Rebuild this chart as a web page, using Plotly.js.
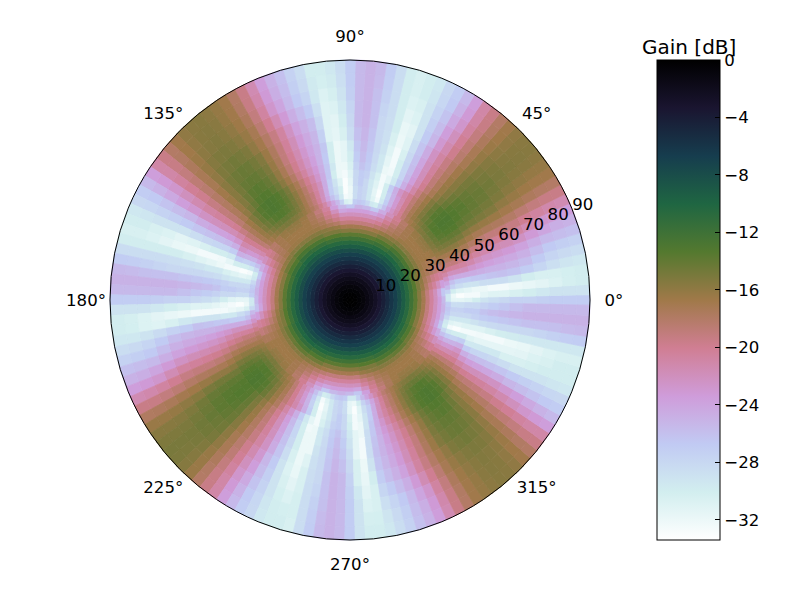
<!DOCTYPE html>
<html>
<head>
<meta charset="utf-8">
<script src="https://cdn.plot.ly/plotly-3.0.1.min.js"></script>
<style>
  html, body { margin: 0; padding: 0; background: #fff; }
  #chart { width: 800px; height: 600px; }
</style>
</head>
<body>
<div id="chart"></div>
<script>
// ring edges in degrees of elevation, one more than the rows of gain below
const ringEdges = [0, 1.5, 3, 4.5, 6, 7.5, 9, 10.5, 12, 13.5, 15, 16.5, 18, 19.5, 21, 22.5, 24, 25.5, 27,
                   28.5, 30, 31.5, 33, 34.5, 36, 38, 40, 43, 46, 49, 52, 56, 60, 65, 70, 75, 80, 85, 90];

const angleTicks = [0, 45, 90, 135, 180, 225, 270, 315];
const radialTicks = [10, 20, 30, 40, 50, 60, 70, 80, 90];
const gainTicks = [0, -4, -8, -12, -16, -20, -24, -28, -32];

// gain in dB, one row per ring, each row going round evenly from azimuth 0
const gainRows = [
  [-0.03, -0.03, -0.03, -0.03, -0.03, -0.03, -0.03, -0.03, -0.03, -0.03, -0.03, -0.03],
  [-0.15, -0.15, -0.15, -0.15, -0.15, -0.15, -0.15, -0.15, -0.15, -0.15, -0.15, -0.15],
  [-0.4, -0.4, -0.4, -0.4, -0.4, -0.4, -0.4, -0.4, -0.4, -0.4, -0.4, -0.4],
  [-0.8, -0.8, -0.8, -0.8, -0.8, -0.8, -0.8, -0.8, -0.8, -0.8, -0.8, -0.8],
  [-1.3, -1.3, -1.3, -1.3, -1.3, -1.3, -1.3, -1.3, -1.3, -1.3, -1.3, -1.3],
  [-1.9, -1.9, -1.9, -1.9, -1.9, -1.9, -1.9, -1.9, -1.9, -1.9, -1.9, -1.9],
  [-2.6, -2.6, -2.6, -2.6, -2.6, -2.6, -2.6, -2.6, -2.6, -2.6, -2.6, -2.6],
  [-3.4, -3.4, -3.4, -3.4, -3.4, -3.4, -3.4, -3.4, -3.4, -3.4, -3.4, -3.4],
  [-4.2, -4.2, -4.2, -4.2, -4.2, -4.2, -4.2, -4.2, -4.2, -4.2, -4.2, -4.2],
  [-5.1, -5.1, -5.1, -5.1, -5.1, -5.1, -5.1, -5.1, -5.1, -5.1, -5.1, -5.1],
  [-6, -6, -6, -6, -6, -6, -6, -6, -6, -6, -6, -6],
  [-6.9, -6.9, -6.9, -6.9, -6.9, -6.9, -6.9, -6.9, -6.9, -6.9, -6.9, -6.9],
  [-8, -7.9, -7.8, -7.8, -7.9, -8, -8, -7.9, -7.8, -7.8, -7.9, -8, -8, -7.9, -7.8, -7.8, -7.9, -8, -8, -7.9, -7.8, -7.8, -7.9, -8],
  [-9.3, -9.2, -9, -8.9, -9.1, -9.3, -9.3, -9.2, -9, -8.9, -9.1, -9.3, -9.3, -9.2, -9, -8.9, -9.1, -9.3, -9.3, -9.2, -9, -8.9, -9.1, -9.3],
  [-10.6, -10.5, -10.2, -10, -10.3, -10.6, -10.6, -10.5, -10.2, -10, -10.3, -10.6, -10.6, -10.5, -10.2, -10, -10.3, -10.6, -10.6, -10.5, -10.2, -10, -10.3, -10.6],
  [-12.1, -11.9, -11.5, -11.3, -11.7, -12.1, -12.1, -11.9, -11.5, -11.3, -11.7, -12.1, -12.1, -11.9, -11.5, -11.3, -11.7, -12.1, -12.1, -11.9, -11.5, -11.3, -11.7, -12.1],
  [-13.7, -13.4, -12.8, -12.6, -13.2, -13.7, -13.7, -13.4, -12.8, -12.6, -13.2, -13.7, -13.7, -13.4, -12.8, -12.6, -13.2, -13.7, -13.7, -13.4, -12.8, -12.6, -13.2, -13.7],
  [-15.5, -15.1, -14.4, -14.1, -14.7, -15.5, -15.5, -15.1, -14.4, -14.1, -14.7, -15.5, -15.5, -15.1, -14.4, -14.1, -14.7, -15.5, -15.5, -15.1, -14.4, -14.1, -14.7, -15.5],
  [-17, -17, -16.3, -16, -15.7, -15.5, -15.5, -15.5, -15.5, -15.5, -15.5, -15.7, -16, -16.3, -16.7, -17, -17, -17,
   -17, -17, -16.3, -16, -15.7, -15.5, -15.5, -15.5, -15.5, -15.5, -15.5, -15.7, -16, -16.3, -16.7, -17, -17, -17,
   -17, -17, -16.3, -16, -15.7, -15.5, -15.5, -15.5, -15.5, -15.5, -15.5, -15.7, -16, -16.3, -16.7, -17, -17, -17,
   -17, -17, -16.3, -16, -15.7, -15.5, -15.5, -15.5, -15.5, -15.5, -15.5, -15.7, -16, -16.3, -16.7, -17, -17, -17],
  [-19, -19, -18, -17.5, -17, -16.5, -16.5, -16.5, -16.5, -16.5, -16.5, -17, -17.5, -18, -18.5, -19, -19, -19,
   -19, -19, -18, -17.5, -17, -16.5, -16.5, -16.5, -16.5, -16.5, -16.5, -17, -17.5, -18, -18.5, -19, -19, -19,
   -19, -19, -18, -17.5, -17, -16.5, -16.5, -16.5, -16.5, -16.5, -16.5, -17, -17.5, -18, -18.5, -19, -19, -19,
   -19, -19, -18, -17.5, -17, -16.5, -16.5, -16.5, -16.5, -16.5, -16.5, -17, -17.5, -18, -18.5, -19, -19, -19],
  [-20.5, -20.5, -19.5, -18.5, -17.5, -17, -16.7, -16.7, -16.7, -16.7, -17, -17.5, -18, -19, -20, -20.5, -20.5, -20.5,
   -20.5, -20.5, -19.5, -18.5, -17.5, -17, -16.7, -16.7, -16.7, -16.7, -17, -17.5, -18, -19, -20, -20.5, -20.5, -20.5,
   -20.5, -20.5, -19.5, -18.5, -17.5, -17, -16.7, -16.7, -16.7, -16.7, -17, -17.5, -18, -19, -20, -20.5, -20.5, -20.5,
   -20.5, -20.5, -19.5, -18.5, -17.5, -17, -16.7, -16.7, -16.7, -16.7, -17, -17.5, -18, -19, -20, -20.5, -20.5, -20.5],
  [-22, -22, -20.5, -19.5, -18, -17.3, -16.7, -16.7, -16.7, -16.7, -17, -17.7, -18.7, -20, -21.3, -22, -22, -22,
   -22, -22, -20.5, -19.5, -18, -17.3, -16.7, -16.7, -16.7, -16.7, -17, -17.7, -18.7, -20, -21.3, -22, -22, -22,
   -22, -22, -20.5, -19.5, -18, -17.3, -16.7, -16.7, -16.7, -16.7, -17, -17.7, -18.7, -20, -21.3, -22, -22, -22,
   -22, -22, -20.5, -19.5, -18, -17.3, -16.7, -16.7, -16.7, -16.7, -17, -17.7, -18.7, -20, -21.3, -22, -22, -22],
  [-23.5, -24, -22, -20, -18.5, -17.5, -16.7, -16.3, -16.3, -16.5, -17, -18, -19.5, -21, -23, -24, -23.5, -23.5,
   -23.5, -24, -22, -20, -18.5, -17.5, -16.7, -16.3, -16.3, -16.5, -17, -18, -19.5, -21, -23, -24, -23.5, -23.5,
   -23.5, -24, -22, -20, -18.5, -17.5, -16.7, -16.3, -16.3, -16.5, -17, -18, -19.5, -21, -23, -24, -23.5, -23.5,
   -23.5, -24, -22, -20, -18.5, -17.5, -16.7, -16.3, -16.3, -16.5, -17, -18, -19.5, -21, -23, -24, -23.5, -23.5],
  [-25.5, -26.5, -23.5, -20.5, -19, -17.5, -16.5, -16, -16, -16.3, -17, -18.2, -20, -22, -24.5, -26.5, -25.5, -25,
   -26.5, -25.5, -23.5, -20.5, -19, -17.5, -16.5, -16, -16, -16.3, -17, -18.2, -20, -22, -24.5, -26.5, -25.5, -25,
   -25.5, -26, -23.5, -20.5, -19, -17.5, -16.5, -16, -16, -16.3, -17, -18.2, -20, -22, -24.5, -26.5, -25.5, -25,
   -25.5, -26.5, -23.5, -20.5, -19, -17.5, -16.5, -16, -16, -16.3, -17, -18.2, -20, -22, -24.5, -26.5, -25.5, -25],
  [-29.5, -29.5, -27.5, -25.5, -24, -22.5, -21, -19.7, -18.5, -17.7, -17, -16.3, -15.8, -15.4, -15.2, -15, -15, -15.2, -15.4, -15.8, -16.3, -16.9, -17.5, -18.7, -20, -21.2, -22.5, -24, -26, -28, -30, -29.5, -28, -27, -26.5, -27,
   -31, -30.5, -27.5, -25.5, -24, -22.5, -21, -19.7, -18.5, -17.7, -17, -16.3, -15.8, -15.4, -15.2, -15, -15, -15.2, -15.4, -15.8, -16.3, -16.9, -17.5, -18.7, -20, -21.2, -22.5, -24, -26, -28, -30, -29.5, -28, -27, -26.5, -27,
   -29.5, -29.5, -28, -25.5, -24, -22.5, -21, -19.7, -18.5, -17.7, -17, -16.3, -15.8, -15.4, -15.2, -15, -15, -15.2, -15.4, -15.8, -16.3, -16.9, -17.5, -18.7, -20, -21.2, -22.5, -24, -26, -28, -30, -29.5, -28, -27, -26.5, -27,
   -29.5, -29.5, -27.5, -25.5, -24, -22.5, -21, -19.7, -18.5, -17.7, -17, -16.3, -15.8, -15.4, -15.2, -15, -15, -15.2, -15.4, -15.8, -16.3, -16.9, -17.5, -18.7, -20, -21.2, -22.5, -24, -26, -28, -30, -29.5, -28, -27, -26.5, -27],
  [-31.5, -32, -30, -27.5, -26, -24, -22, -20.3, -19, -18, -17, -16, -15.2, -14.7, -14.4, -14.2, -14.2, -14.4, -14.7, -15.2, -15.8, -16.4, -17.2, -18.5, -20, -21.5, -23, -25, -27, -29.5, -32.5, -31, -29.5, -28, -27.5, -28.5,
   -32, -32.5, -29.5, -27.5, -26, -24, -22, -20.3, -19, -18, -17, -16, -15.2, -14.7, -14.4, -14.2, -14.2, -14.4, -14.7, -15.2, -15.8, -16.4, -17.2, -18.5, -20, -21.5, -23, -25, -27, -29.5, -32.5, -31, -29.5, -28, -27.5, -28.5,
   -31.5, -32, -30.5, -27.5, -26, -24, -22, -20.3, -19, -18, -17, -16, -15.2, -14.7, -14.4, -14.2, -14.2, -14.4, -14.7, -15.2, -15.8, -16.4, -17.2, -18.5, -20, -21.5, -23, -25, -27, -29.5, -32.5, -31, -29.5, -28, -27.5, -28.5,
   -31.5, -32, -30, -27.5, -26, -24, -22, -20.3, -19, -18, -17, -16, -15.2, -14.7, -14.4, -14.2, -14.2, -14.4, -14.7, -15.2, -15.8, -16.4, -17.2, -18.5, -20, -21.5, -23, -25, -27, -29.5, -32.5, -31, -29.5, -28, -27.5, -28.5],
  [-31.5, -33, -31, -28.5, -27, -24.5, -22, -20.5, -19, -18, -17, -15.8, -15, -14.3, -13.7, -13.4, -13.3, -13.5, -14, -14.6, -15.3, -16.3, -17.3, -18.6, -20, -21.5, -23, -25, -27.5, -30, -33, -31.5, -29.5, -28, -27.5, -28.5,
   -32, -33, -30, -28.5, -27, -24.5, -22, -20.5, -19, -18, -17, -15.8, -15, -14.3, -13.7, -13.4, -13.3, -13.5, -14, -14.6, -15.3, -16.3, -17.3, -18.6, -20, -21.5, -23, -25, -27.5, -30, -33, -31.5, -29.5, -28, -27.5, -28.5,
   -31.5, -33, -31.5, -28.5, -27, -24.5, -22, -20.5, -19, -18, -17, -15.8, -15, -14.3, -13.7, -13.4, -13.3, -13.5, -14, -14.6, -15.3, -16.3, -17.3, -18.6, -20, -21.5, -23, -25, -27.5, -30, -33, -31.5, -29.5, -28, -27.5, -28.5,
   -31.5, -33, -31, -28.5, -27, -24.5, -22, -20.5, -19, -18, -17, -15.8, -15, -14.3, -13.7, -13.4, -13.3, -13.5, -14, -14.6, -15.3, -16.3, -17.3, -18.6, -20, -21.5, -23, -25, -27.5, -30, -33, -31.5, -29.5, -28, -27.5, -28.5],
  [-31, -32.5, -31.5, -29, -27, -24.5, -22, -20.7, -19.5, -18.2, -17, -15.8, -14.8, -14, -13.4, -13.1, -13, -13.2, -13.5, -14.3, -15.3, -16.4, -17.5, -18.7, -20, -21.2, -22.5, -24.7, -27, -30, -32.5, -31, -29.5, -28, -27, -28,
   -31.5, -33, -31, -29, -27, -24.5, -22, -20.7, -19.5, -18.2, -17, -15.8, -14.8, -14, -13.4, -13.1, -13, -13.2, -13.5, -14.3, -15.3, -16.4, -17.5, -18.7, -20, -21.2, -22.5, -24.7, -27, -30, -32.5, -31, -29.5, -28, -27, -28,
   -31, -32.5, -32, -29.5, -27, -24.5, -22, -20.7, -19.5, -18.2, -17, -15.8, -14.8, -14, -13.4, -13.1, -13, -13.2, -13.5, -14.3, -15.3, -16.4, -17.5, -18.7, -20, -21.2, -22.5, -24.7, -27, -30, -32.5, -31, -29.5, -28, -27, -28,
   -30.5, -32.5, -31.5, -29, -27, -24.5, -22, -20.7, -19.5, -18.2, -17, -15.8, -14.8, -14, -13.4, -13.1, -13, -13.2, -13.5, -14.3, -15.3, -16.4, -17.5, -18.7, -20, -21.2, -22.5, -24.7, -27, -30, -32.5, -31, -29.5, -28, -27, -28],
  [-30, -32.5, -32, -29, -26.5, -24.5, -22.7, -21.2, -20, -18.7, -17.3, -16.2, -15, -14.1, -13.4, -13.1, -13, -13.2, -13.6, -14.4, -15.4, -16.6, -17.8, -19.3, -21, -22.7, -24.7, -27, -29.5, -31.5, -32.5, -30.5, -29, -27.5, -27, -28,
   -31, -32.5, -32, -30, -26.5, -24.5, -22.7, -21.2, -20, -18.7, -17.3, -16.2, -15, -14.1, -13.4, -13.1, -13, -13.2, -13.6, -14.4, -15.4, -16.6, -17.8, -19.3, -21, -22.7, -24.7, -27, -29.5, -31.5, -32.5, -30.5, -29, -27.5, -27, -28,
   -30, -32, -32.5, -29.5, -26.5, -24.5, -22.7, -21.2, -20, -18.7, -17.3, -16.2, -15, -14.1, -13.4, -13.1, -13, -13.2, -13.6, -14.4, -15.4, -16.6, -17.8, -19.3, -21, -22.7, -24.7, -27, -29.5, -31.5, -32.5, -30.5, -29, -27.5, -27, -28,
   -30, -32.5, -32, -29, -26.5, -24.5, -22.7, -21.2, -20, -18.7, -17.3, -16.2, -15, -14.1, -13.4, -13.1, -13, -13.2, -13.6, -14.4, -15.4, -16.6, -17.8, -19.3, -21, -22.7, -24.7, -27, -29.5, -31, -32.5, -31, -29, -27.5, -27, -28],
  [-29, -31.5, -32, -28.5, -26.5, -24.7, -23.2, -22, -20.7, -19.4, -18, -16.8, -15.7, -14.6, -13.9, -13.4, -13.3, -13.5, -14.2, -15, -16, -17.3, -18.5, -20, -21.7, -23.5, -25.5, -27.7, -30, -32.3, -32, -29.5, -28.5, -27, -26.2, -27.5,
   -30.5, -32, -32, -29.5, -26.5, -24.7, -23.2, -22, -20.7, -19.4, -18, -16.8, -15.7, -14.6, -13.9, -13.4, -13.3, -13.5, -14.2, -15, -16, -17.3, -18.5, -20, -21.7, -23.5, -25.5, -27.7, -30, -32.3, -32, -29.5, -28.5, -27, -26.2, -27.5,
   -29, -31.5, -32.5, -29, -26.5, -24.7, -23.2, -22, -20.7, -19.4, -18, -16.8, -15.7, -14.6, -13.9, -13.4, -13.3, -13.5, -14.2, -15, -16, -17.3, -18.5, -20, -21.7, -23.5, -25.5, -27.7, -30, -32.3, -32, -29.5, -28.5, -27, -26.2, -27.5,
   -29.5, -31.5, -32, -28.5, -26.5, -24.7, -23.2, -22, -20.7, -19.4, -18, -16.8, -15.7, -14.6, -13.9, -13.4, -13.3, -13.5, -14.2, -15, -16, -17.3, -18.5, -20, -21.7, -23.5, -25.5, -27.7, -29.5, -31.5, -32.3, -31, -28.5, -27, -26.2, -27.5],
  [-28.5, -31, -32.5, -28.5, -26.2, -25, -23.7, -22.5, -21.2, -19.9, -18.6, -17.3, -16.1, -14.9, -14.2, -13.8, -13.6, -13.8, -14.5, -15.4, -16.3, -17.6, -18.8, -20.3, -21.9, -23.8, -25.8, -27.8, -30, -32.5, -31.5, -29.5, -28.2, -26.7, -25.8, -27,
   -30, -31.5, -32, -30, -26.7, -25, -23.7, -22.5, -21.2, -19.9, -18.6, -17.3, -16.1, -14.9, -14.2, -13.8, -13.6, -13.8, -14.5, -15.4, -16.3, -17.6, -18.8, -20.3, -21.9, -23.8, -25.8, -27.8, -30, -32.5, -31.5, -29.5, -28.2, -26.7, -25.8, -27,
   -28.5, -31, -32.5, -29, -26.2, -25, -23.7, -22.5, -21.2, -19.9, -18.6, -17.3, -16, -14.7, -13.9, -13.5, -13.3, -13.5, -14.1, -15.2, -16.3, -17.6, -18.8, -20.3, -21.9, -23.8, -25.8, -27.8, -30, -32, -32, -29.5, -28.2, -26.7, -25.8, -27,
   -29, -31.5, -32.5, -28.5, -26.2, -25, -23.7, -22.5, -21.2, -19.9, -18.6, -17.3, -16.1, -14.9, -14.2, -13.8, -13.6, -13.8, -14.5, -15.4, -16.3, -17.6, -18.8, -20.3, -21.9, -23.8, -25.8, -27.8, -29.5, -31.5, -32.5, -30.5, -28.2, -26.7, -25.8, -27],
  [-28, -31, -32.5, -28.5, -26, -25, -24, -22.8, -21.5, -20.2, -19, -17.5, -16.3, -15.1, -14.5, -14.1, -14, -14.2, -14.8, -15.6, -16.5, -17.8, -19, -20.5, -22, -24, -26, -28, -30.5, -32.5, -31, -29, -28, -26.5, -25.5, -26.5,
   -29.5, -31.5, -32, -30, -26.5, -25, -24, -22.8, -21.5, -20.2, -19, -17.5, -16.3, -15.1, -14.5, -14.1, -14, -14.2, -14.8, -15.6, -16.5, -17.8, -19, -20.5, -22, -24, -26, -28, -30.5, -32.5, -31, -29, -28, -26.5, -25.5, -26.5,
   -28, -31, -32.5, -29, -26, -25, -24, -22.8, -21.5, -20.2, -19, -17.5, -16, -14.7, -14, -13.6, -13.5, -13.7, -14.3, -15.4, -16.5, -17.8, -19, -20.5, -22, -24, -26, -28, -30, -32, -32, -29, -28, -26.5, -25.5, -26.5,
   -28.5, -31.5, -32.5, -28.5, -26, -25, -24, -22.8, -21.5, -20.2, -19, -17.5, -16.3, -15.1, -14.5, -14.1, -14, -14.2, -14.8, -15.6, -16.5, -17.8, -19, -20.5, -22, -24, -26, -28, -29.5, -31.5, -32.5, -30, -28, -26.5, -25.5, -26.5],
  [-27.5, -30.5, -32, -29, -26.3, -25.3, -24.3, -23.2, -21.8, -20.4, -19, -17.7, -16.5, -15.4, -14.8, -14.4, -14.3, -14.5, -14.9, -15.7, -16.8, -18, -19.3, -20.8, -22.3, -24.5, -26.3, -28.5, -31, -32, -30.5, -28.8, -28, -26.3, -25.2, -26,
   -28.5, -30.5, -31.5, -31, -27.3, -25.3, -24.3, -23.2, -21.8, -20.4, -19, -17.7, -16.5, -15.4, -14.8, -14.4, -14.3, -14.5, -14.9, -15.7, -16.8, -18, -19.3, -20.8, -22.3, -24.5, -26.3, -28.5, -31, -32, -30.5, -28.8, -28, -26.3, -25.2, -26,
   -27.5, -30.5, -32, -29.5, -27, -25.3, -24.3, -23.2, -21.8, -20.4, -19, -17.7, -16.3, -15, -14.2, -13.9, -13.8, -14, -14.4, -15.5, -16.8, -18, -19.3, -20.8, -22.3, -24.5, -26.3, -28.5, -30.5, -32, -31, -28.8, -28, -26.3, -25.2, -26,
   -28, -30.5, -32, -29, -26.3, -25.3, -24.3, -23.2, -21.8, -20.4, -19, -17.7, -16.5, -15.4, -14.8, -14.4, -14.3, -14.5, -14.9, -15.7, -16.8, -18, -19.3, -20.8, -22.3, -24.5, -26.3, -28.5, -30.5, -31.5, -32, -29.8, -28, -26.3, -25.2, -26],
  [-27.5, -30, -31.7, -30, -27, -25.8, -24.8, -23.8, -22.3, -20.7, -19.3, -18, -16.9, -16, -15.2, -14.9, -14.7, -14.9, -15.2, -16, -17.2, -18.4, -19.8, -21.4, -22.9, -25.3, -26.8, -29, -31.3, -31.8, -30, -28.6, -28, -26, -25, -25.5,
   -28, -30, -31.3, -31, -28, -25.8, -24.8, -23.8, -22.3, -20.7, -19.3, -18, -16.9, -16, -15.2, -14.9, -14.7, -14.9, -15.2, -16, -17.2, -18.4, -19.8, -21.4, -22.9, -25.3, -26.8, -29, -31.3, -31.8, -30, -28.6, -28, -26, -25, -25.5,
   -27.5, -30, -31.7, -30.5, -27.5, -25.8, -24.8, -23.8, -22.3, -20.7, -19.3, -18, -16.7, -15.6, -14.7, -14.4, -14.2, -14.4, -14.7, -15.8, -17.2, -18.4, -19.8, -21.4, -22.9, -25.3, -26.8, -29, -30.8, -31.8, -30.5, -28.6, -28, -26, -25, -25.5,
   -27.5, -30.5, -31.7, -30, -27, -25.8, -24.8, -23.8, -22.3, -20.7, -19.3, -18, -16.9, -16, -15.2, -14.9, -14.7, -14.9, -15.2, -16, -17.2, -18.4, -19.8, -21.4, -22.9, -25.3, -26.8, -29, -30.5, -31.3, -31.8, -29.6, -28, -26, -25, -25.5],
  [-27.2, -29.5, -31.3, -30.5, -27.8, -26.8, -25.8, -24.7, -23.2, -21.6, -20, -18.6, -17.2, -16.3, -15.7, -15.3, -15.1, -15.2, -15.5, -16.2, -17.3, -18.7, -20.2, -22, -23.5, -25.7, -27.2, -29, -30.8, -31.3, -30, -28.5, -27.7, -26, -25, -25.5,
   -27.7, -29.5, -30.8, -31, -28.8, -26.8, -25.8, -24.7, -23.2, -21.6, -20, -18.6, -17.2, -16.3, -15.7, -15.3, -15.1, -15.2, -15.5, -16.2, -17.3, -18.7, -20.2, -22, -23.5, -25.7, -27.2, -29, -30.8, -31.3, -30, -28.5, -27.7, -26, -25, -25.5,
   -27.2, -29.5, -31.3, -31, -28.3, -26.8, -25.8, -24.7, -23.2, -21.6, -20, -18.6, -17, -15.9, -15.2, -14.8, -14.6, -14.7, -15, -16, -17.3, -18.7, -20.2, -22, -23.5, -25.7, -27.2, -29, -30.5, -31.3, -30.5, -28.5, -27.7, -26, -25, -25.5,
   -27.2, -29.5, -31.3, -30.5, -27.8, -26.8, -25.8, -24.7, -23.2, -21.6, -20, -18.6, -17.2, -16.3, -15.7, -15.3, -15.1, -15.2, -15.5, -16.2, -17.3, -18.7, -20.2, -22, -23.5, -25.7, -27.2, -29, -30.3, -30.8, -31.3, -29.5, -27.7, -26, -25, -25.5],
  [-27, -29, -30.8, -30.5, -28.7, -27.7, -26.7, -25.5, -24, -22.7, -20.7, -19.1, -17.6, -16.6, -16, -15.6, -15.4, -15.5, -15.8, -16.5, -17.6, -19.1, -20.6, -22.7, -24.3, -26.2, -27.6, -29, -30.5, -30.8, -30, -28.5, -27.4, -25.9, -25, -25.5,
   -27.2, -29, -30.3, -30.8, -29.5, -27.7, -26.7, -25.5, -24, -22.7, -20.7, -19.1, -17.6, -16.6, -16, -15.6, -15.4, -15.5, -15.8, -16.5, -17.6, -19.1, -20.6, -22.7, -24.3, -26.2, -27.6, -29, -30.5, -30.8, -30, -28.5, -27.4, -25.9, -25, -25.5,
   -27, -29, -30.8, -30.8, -29, -27.7, -26.7, -25.5, -24, -22.7, -20.7, -19.1, -17.4, -16.2, -15.5, -15.1, -14.9, -15, -15.3, -16.3, -17.6, -19.1, -20.6, -22.7, -24.3, -26.2, -27.6, -29, -30.2, -30.8, -30.3, -28.5, -27.4, -25.9, -25, -25.5,
   -27, -29, -30.8, -30.5, -28.7, -27.7, -26.7, -25.5, -24, -22.7, -20.7, -19.1, -17.6, -16.6, -16, -15.6, -15.4, -15.5, -15.8, -16.5, -17.6, -19.1, -20.6, -22.7, -24.3, -26.2, -27.6, -29, -30, -30.5, -30.8, -29.5, -27.4, -25.9, -25, -25.5],
  [-27, -29, -30.3, -30.2, -29.2, -28.2, -27.2, -25.8, -24.7, -23.2, -21.2, -19.4, -17.9, -16.8, -16.2, -15.7, -15.5, -15.6, -16, -16.7, -17.9, -19.4, -21, -23.2, -25, -26.7, -27.9, -29.3, -30, -30.5, -30, -28.5, -27.1, -25.6, -25, -25.5,
   -27, -28.7, -29.8, -30.2, -29.7, -28.2, -27.2, -25.8, -24.7, -23.2, -21.2, -19.4, -17.9, -16.8, -16.2, -15.7, -15.5, -15.6, -16, -16.7, -17.9, -19.4, -21, -23.2, -25, -26.7, -27.9, -29.3, -30, -30.5, -30, -28.5, -27.1, -25.6, -25, -25.5,
   -27, -29, -30.3, -30.2, -29.5, -28.2, -27.2, -25.8, -24.7, -23.2, -21.2, -19.4, -17.7, -16.4, -15.6, -15.2, -15, -15.1, -15.5, -16.4, -17.9, -19.4, -21, -23.2, -25, -26.7, -27.9, -29.3, -30, -30.2, -30.3, -28.5, -27.1, -25.6, -25, -25.5,
   -27, -29, -30.3, -30.2, -29.2, -28.2, -27.2, -25.8, -24.7, -23.2, -21.2, -19.4, -17.9, -16.8, -16.2, -15.7, -15.5, -15.6, -16, -16.7, -17.9, -19.4, -21, -23.2, -25, -26.7, -27.9, -29.3, -30, -30, -30.5, -29.5, -27.1, -25.6, -25, -25.5],
  [-27, -29, -30, -30, -29.5, -28.5, -27.5, -26, -25, -23.5, -21.5, -19.5, -18, -16.8, -16.2, -15.8, -15.6, -15.7, -16, -16.8, -18, -19.5, -21, -23.5, -25.5, -27, -28, -29.5, -30, -30.5, -30, -28.5, -27, -25.5, -25, -25.5,
   -27, -28.5, -29.5, -30, -30, -28.5, -27.5, -26, -25, -23.5, -21.5, -19.5, -18, -16.8, -16.2, -15.8, -15.6, -15.7, -16, -16.8, -18, -19.5, -21, -23.5, -25.5, -27, -28, -29.5, -30, -30.5, -30, -28.5, -27, -25.5, -25, -25.5,
   -27, -29, -30, -30, -29.5, -28.5, -27.5, -26, -25, -23.5, -21.5, -19.5, -17.8, -16.4, -15.6, -15.2, -15, -15.1, -15.5, -16.4, -18, -19.5, -21, -23.5, -25.5, -27, -28, -29.5, -30, -30, -30.5, -28.5, -27, -25.5, -25, -25.5,
   -27, -29, -30, -30, -29.5, -28.5, -27.5, -26, -25, -23.5, -21.5, -19.5, -18, -16.8, -16.2, -15.8, -15.6, -15.7, -16, -16.8, -18, -19.5, -21, -23.5, -25.5, -27, -28, -29.5, -30, -30, -30.5, -29.5, -27, -25.5, -25, -25.5]
];

// cubehelix, light end at the lowest gain
const gainColors = ['#ffffff', '#d2eeef', '#c1caf3', '#cf9cda', '#d07e93', '#a07949',
                    '#54792f', '#1f6642', '#163d4e', '#1a1530', '#000000'];

const gainMin = -33.4;
const gainMax = 0;
const fontFamily = '"DejaVu Sans", sans-serif';
const tickSize = 16.6;

// the radial axis runs past the rim so the labels outside it are not dropped
const rimRadius = 90;
const axisMax = 105;
const angleLabelRadius = 99;
const radialLabelShift = 4.5;
const labelSpoke = 22.5;
// text centres come out about 2 px high, in radial units
const labelDrop = 0.75;

const colorscale = gainColors.map((c, i) => [i / (gainColors.length - 1), c]);

const cellTheta = [];
const cellBase = [];
const cellR = [];
const cellWidth = [];
const cellGain = [];

gainRows.forEach((row, ring) => {
    const step = 360 / row.length;
    row.forEach((gain, i) => {
        cellTheta.push(i * step);
        cellBase.push(ringEdges[ring]);
        cellR.push(ringEdges[ring + 1] - ringEdges[ring]);
        cellWidth.push(step);
        cellGain.push(gain);
    });
});

// polar position of a label, moved straight down by labelDrop
function labelSpot(r, theta) {
    const a = theta * Math.PI / 180;
    const x = r * Math.cos(a);
    const y = r * Math.sin(a) - labelDrop;
    return { r: Math.hypot(x, y), theta: Math.atan2(y, x) * 180 / Math.PI };
}

function textTrace(spots, labels) {
    return {
        type: 'scatterpolar',
        mode: 'text',
        r: spots.map(s => s.r),
        theta: spots.map(s => s.theta),
        text: labels,
        textposition: 'middle center',
        textfont: { family: fontFamily, size: tickSize, color: '#000' },
        cliponaxis: false,
        hoverinfo: 'skip',
        showlegend: false
    };
}

const cells = {
    type: 'barpolar',
    theta: cellTheta,
    base: cellBase,
    r: cellR,
    width: cellWidth,
    hoverinfo: 'skip',
    showlegend: false,
    marker: {
        color: cellGain,
        colorscale: colorscale,
        cmin: gainMin,
        cmax: gainMax,
        // same colour outline, otherwise hairlines show between the cells
        line: { color: cellGain, colorscale: colorscale, cmin: gainMin, cmax: gainMax, width: 0.8 },
        colorbar: {
            x: 657 / 800,
            xanchor: 'left',
            y: 0.5,
            yanchor: 'middle',
            len: 0.8,
            thickness: 63,
            xpad: 0,
            ypad: 0,
            outlinecolor: '#000',
            outlinewidth: 1,
            tickmode: 'array',
            tickvals: gainTicks,
            ticks: 'inside',
            ticklen: 5,
            tickcolor: '#000',
            tickfont: { family: fontFamily, size: tickSize, color: '#000' }
        }
    }
};

const radialLabels = textTrace(radialTicks.map(v => labelSpot(v + radialLabelShift, labelSpoke)), radialTicks.map(String));
const angleLabels = textTrace(angleTicks.map(a => labelSpot(angleLabelRadius, a)), angleTicks.map(a => a + '°'));

// centre at (350, 300), rim 240 px out
const plotRadius = 240 * axisMax / rimRadius;

const layout = {
    width: 800,
    height: 600,
    margin: { l: 0, r: 0, t: 0, b: 0 },
    paper_bgcolor: '#fff',
    showlegend: false,
    polar: {
        domain: {
            x: [(350 - plotRadius) / 800, (350 + plotRadius) / 800],
            y: [(300 - plotRadius) / 600, (300 + plotRadius) / 600]
        },
        bgcolor: 'rgba(0,0,0,0)',
        barmode: 'overlay',
        radialaxis: { range: [0, axisMax], visible: false },
        angularaxis: {
            rotation: 0,
            direction: 'counterclockwise',
            showticklabels: false,
            ticks: '',
            showgrid: false,
            showline: false
        }
    },
    shapes: [{
        type: 'circle',
        xref: 'paper',
        yref: 'paper',
        x0: 110 / 800,
        x1: 590 / 800,
        y0: 0.1,
        y1: 0.9,
        layer: 'above',
        line: { color: '#000', width: 1 }
    }],
    annotations: [{
        text: 'Gain [dB]',
        xref: 'paper',
        yref: 'paper',
        x: 689 / 800,
        y: 553 / 600,
        xanchor: 'center',
        yanchor: 'middle',
        showarrow: false,
        font: { family: fontFamily, size: 20, color: '#000' }
    }]
};

Plotly.newPlot('chart', [cells, radialLabels, angleLabels], layout, { displayModeBar: false, staticPlot: true });
</script>
</body>
</html>
